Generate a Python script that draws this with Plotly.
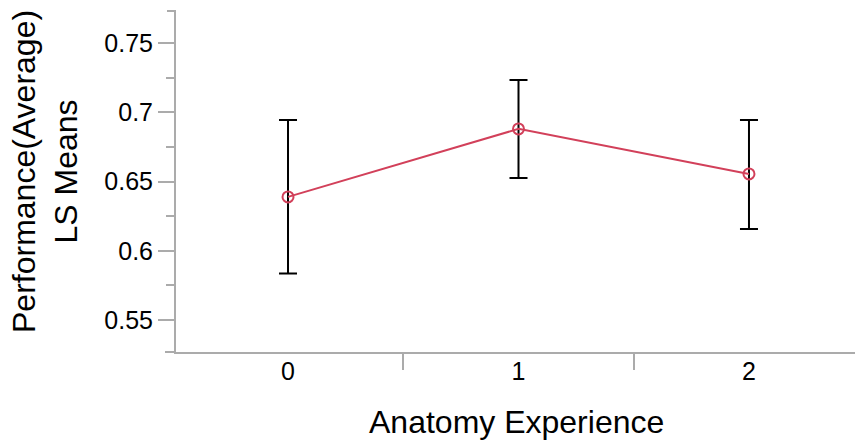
import plotly.graph_objects as go

categories = [0, 1, 2]
ls_means = [0.6389, 0.6880, 0.6555]
upper = [0.6944, 0.7233, 0.6944]
lower = [0.5835, 0.6526, 0.6158]
y_ticks = [0.55, 0.6, 0.65, 0.7, 0.75]
y_tick_labels = ["0.55", "0.6", "0.65", "0.7", "0.75"]

W, H = 855, 441
L, R, T, B = 176, 0, 12, 89
pw, ph = W - L - R, H - T - B

AXIS = "#ababab"
RED = "#d2405a"
FONT = "Liberation Sans, Arial, Helvetica, sans-serif"

err_plus = [u - m for u, m in zip(upper, ls_means)]
err_minus = [m - l for m, l in zip(ls_means, lower)]

fig = go.Figure()
fig.add_trace(go.Scatter(
    x=categories, y=ls_means, mode="lines+markers",
    line=dict(color=RED, width=2),
    marker=dict(symbol="circle-open", size=11, color=RED, line=dict(width=2, color=RED)),
    error_y=dict(type="data", symmetric=False, array=err_plus, arrayminus=err_minus,
                 color="black", thickness=2, width=9),
    showlegend=False,
))

fig.update_layout(
    width=W, height=H,
    margin=dict(l=L, r=R, t=T, b=B, pad=0),
    paper_bgcolor="white", plot_bgcolor="white",
    font=dict(family=FONT, color="black"),
    xaxis=dict(
        range=[-0.486, 2.46], showgrid=False, zeroline=False,
        tickmode="array", tickvals=categories, ticktext=[str(c) for c in categories],
        ticks="outside", ticklen=0, tickfont=dict(size=25), ticklabelstandoff=-4,
        showline=True, linecolor=AXIS, linewidth=2,
        minor=dict(tickmode="array", tickvals=[0.5, 1.5], ticks="outside",
                   ticklen=16, tickcolor=AXIS, tickwidth=2),
    ),
    yaxis=dict(
        range=[0.5269, 0.7724], showgrid=False, zeroline=False,
        tickmode="array", tickvals=y_ticks, ticktext=y_tick_labels,
        ticks="outside", ticklen=16, tickcolor=AXIS, tickwidth=2,
        tickfont=dict(size=25),
        showline=True, linecolor=AXIS, linewidth=2,
        minor=dict(tickmode="linear", tick0=0.525, dtick=0.05, ticks="outside",
                   ticklen=8, tickcolor=AXIS, tickwidth=2),
    ),
    shapes=[
        dict(type="line", xref="paper", yref="paper", x0=-11 / pw, x1=0, y0=0, y1=0,
             line=dict(color=AXIS, width=2)),
        dict(type="line", xref="paper", yref="paper", x0=-9 / pw, x1=0, y0=1.003, y1=1.003,
             line=dict(color=AXIS, width=2)),
    ],
    annotations=[
        dict(text="Anatomy Experience", xref="paper", yref="paper",
             x=(516 - L) / pw, y=-(422 - (T + ph)) / ph, xanchor="center", yanchor="middle",
             showarrow=False, font=dict(size=32, family=FONT)),
        dict(text="Performance(Average)<br>LS Means", xref="paper", yref="paper",
             x=(45 - L) / pw, y=(T + ph - 172) / ph, xanchor="center", yanchor="middle",
             textangle=-90, showarrow=False, font=dict(size=32, family=FONT)),
    ],
)

fig.write_html("out.html")
